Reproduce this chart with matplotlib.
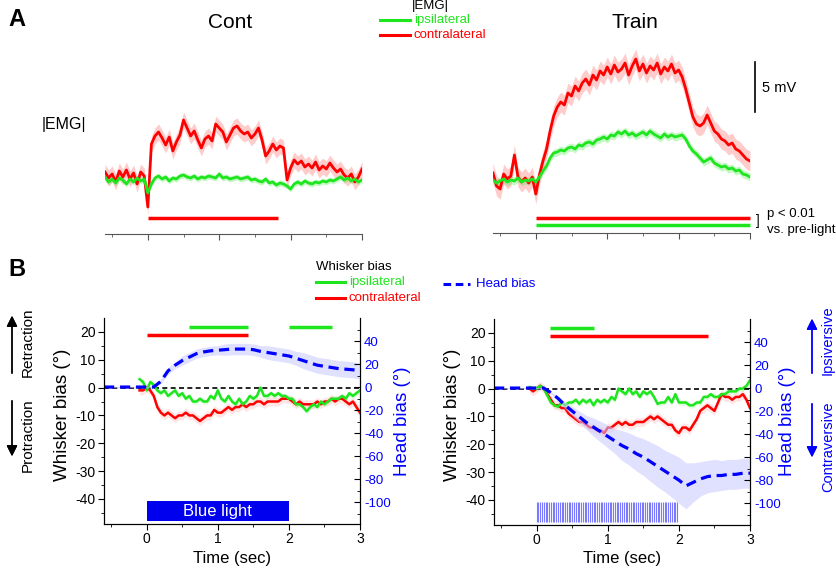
import numpy as np
import matplotlib.pyplot as plt
from matplotlib.lines import Line2D

plt.rcParams['font.family'] = ['Liberation Sans', 'DejaVu Sans']
plt.rcParams['axes.unicode_minus'] = False

# ---------------- data ----------------
# panel A: |EMG| (mV), sampled every 0.05 s from -0.6 to 3.0 s
t_emg = np.linspace(-0.6, 3.0, 73)
cont_ipsi = [0.3, -0.2, 0.1, -0.3, 0.2, 0.0, -0.4, 0.1, -0.2, 0.2, -0.1, 0.1,
             -1.3, -0.4, 0.2, 0.4, 0.1, 0.3, -0.1, 0.2, 0.1, 0.4,
             0.5, 0.3, 0.2, 0.4, 0.1, 0.3, 0.2, 0.4, 0.3, 0.2,
             0.6, 0.2, 0.3, 0.1, 0.2, 0.3, 0.1, 0.2, 0.3, 0.0,
             0.1, -0.1, -0.2, 0.1, -0.3, -0.2, -0.5, -0.3, -0.4, -0.6,
             -0.9, -0.4, -0.2, -0.4, -0.1, -0.3, -0.4, -0.2, -0.3, -0.1,
             -0.2, 0.0, -0.1, 0.1, 0.3, 0.0, 0.2, -0.1, 0.1, -0.2, 0.0]
cont_contra = [0.8, 0.2, 0.6, -0.2, 0.9, 0.3, 1.0, 0.1, 0.7, -0.4, 0.8, 0.4,
               -2.7, 3.6, 4.4, 4.8, 4.2, 3.5, 4.3, 2.9, 3.8, 4.5,
               6.0, 5.2, 4.4, 4.9, 4.0, 3.2, 4.1, 4.4, 3.9, 5.6,
               5.2, 4.8, 3.8, 4.5, 5.2, 5.4, 4.9, 4.6, 4.8, 4.2,
               4.6, 5.2, 4.0, 2.4, 2.9, 3.6, 3.0, 3.4, 3.2, 0.0,
               1.2, 2.0, 1.6, 1.9, 1.3, 1.6, 1.2, 1.8, 1.0, 1.4,
               1.1, 1.7, 1.2, 0.8, 1.1, 0.5, 0.2, 0.6, -0.2, 0.3, 1.1]
train_ipsi = [-0.1, -0.4, -0.2, 0.0, -0.3, -0.1, -0.2, 0.1, -0.3, -0.1, -0.2, 0.0,
              -0.3, 0.2, 0.8, 1.3, 2.1, 2.6, 2.7, 2.9, 2.8, 3.1,
              3.2, 3.0, 3.4, 3.3, 3.6, 3.7, 3.5, 3.9, 4.0, 4.2,
              4.0, 4.4, 4.3, 4.7, 4.5, 4.8, 4.4, 4.6, 4.3, 4.5,
              4.7, 4.4, 4.8, 4.5, 4.3, 4.1, 4.5, 4.2, 4.4, 4.2,
              4.3, 4.4, 4.0, 3.3, 2.8, 2.5, 2.1, 1.7, 1.9, 2.1,
              1.6, 1.4, 1.2, 1.3, 1.0, 1.1, 0.8, 0.9, 0.5, 0.4, 0.2]
train_contra = [0.6, -0.7, -1.0, 0.5, 0.0, 0.3, 2.4, 0.2, -0.3, 0.1, -0.4, 0.2,
                -1.5, 0.4, 1.8, 3.0, 4.8, 6.3, 7.2, 7.7, 7.4, 8.6,
                8.3, 9.3, 8.8, 9.6, 10.0, 9.4, 10.4, 9.9, 10.8, 10.4,
                11.2, 10.5, 11.4, 10.7, 11.0, 11.6, 10.4, 11.3, 12.0, 10.8,
                11.5, 10.6, 11.3, 10.9, 11.6, 10.5, 11.2, 10.8, 11.5, 10.6,
                10.9, 10.2, 9.0, 7.6, 6.2, 5.5, 5.3, 5.6, 6.4, 5.6,
                4.8, 4.5, 4.0, 3.8, 3.4, 3.6, 3.0, 2.8, 2.4, 2.0, 1.8]
emg_sem = {'cont_ipsi': 0.3, 'cont_contra': 0.8, 'train_ipsi': 0.4, 'train_contra': 1.0}

# significance bars (start, end) in s
sig_cont_contra = (0.0, 1.82)
sig_train_contra = (0.0, 3.0)
sig_train_ipsi = (0.0, 3.0)

# panel B: whisker bias (deg), every 0.05 s from -0.1 to 3.0 s
t_wh = np.linspace(-0.1, 3.0, 63)
wh_cont_ipsi = [3, 2, -1, 2, 1, -1, -2, -1, -3, -2,
                -1, -3, -2, -4, -3, -5, -5, -4, -5, -5,
                -3, -4, -1, -4, -5, -3, -5, -6, -4, -6,
                -5, -3, -4, -3, 0, -3, -3, -2, -3, -2,
                -3, -3, -4, -4, -6, -6, -7, -8.5, -7, -6,
                -7, -5, -6, -5, -4, -4, -4, -3, -4, -2,
                -3, -2, -1]
wh_cont_contra = [-1, -1, 0, -1, -3, -7, -9, -10, -9, -10,
                  -11, -10, -10, -9, -10, -10, -11, -12, -11, -10,
                  -10, -8, -9, -9, -8, -7, -8, -7, -7, -6,
                  -7, -6, -6, -5, -5, -6, -5, -5, -5, -5,
                  -4, -4, -4, -5, -6, -5, -6, -6, -6, -6,
                  -5, -6, -5, -5, -4, -5, -4, -4, -5, -6,
                  -5, -7, -9]
wh_train_ipsi = [0.5, 0, 0, 1, 0, -2.5, -5, -6, -6.5, -5,
                 -6, -5, -5, -4, -5.5, -4, -5, -4, -6, -4,
                 -5, -4, -5, -3, -4, 0, -1, -2, 0, -2,
                 -1, -3, -1, -2, -1, -3, -5.5, -5, -5, -3,
                 -5, -2, -5, -5, -5, -6, -6, -5, -5, -3,
                 -3, -2, -3, -3, -2, -2, -1, -1, -1, 0,
                 0, 1, 3]
wh_train_contra = [0, -1, 0, 1, 0, -2, -4, -6, -6, -7,
                   -7, -9, -10, -11, -12, -12, -13, -14, -14, -15,
                   -15, -16, -14, -14, -13, -12, -13, -12, -13, -13,
                   -12, -12, -12, -11, -10, -11, -10, -11, -12, -13,
                   -13, -15, -16, -14, -14, -15, -13, -11, -8, -7,
                   -6, -7, -8, -5, -2, -3, -3, -4, -3, -3,
                   -2, -4, -7]
wh_sem = {'ipsi': 1.0, 'contra': 1.6}

# head bias (deg), every 0.1 s from -0.6 to 3.0 s
t_head = np.linspace(-0.6, 3.0, 37)
head_cont = [0, 0, 0, 0, 0, 0, 0, 0, 5, 14,
             19, 23, 26, 29, 30.5, 31.5, 32, 32.5, 33, 33,
             33, 32.5, 31, 30, 29, 28, 27, 25, 23, 21,
             19, 18, 17, 16, 15.5, 15, 14]
head_cont_sem = [0.5, 0.5, 0.5, 0.5, 0.5, 0.5, 0.5, 0.5, 2, 3,
                 3, 4, 4, 4, 4, 4, 4, 5, 5, 5,
                 5, 5, 5, 6, 6, 6, 6, 6, 7, 7,
                 7, 7, 7, 7, 7, 7, 7]
head_train = [0, 0, 0, 0, 0, 0, 0, 0, -4, -9,
              -15, -20, -25, -30, -34, -38, -42, -46, -50, -53,
              -57, -60, -64, -68, -72, -76, -80, -85, -82, -79,
              -77, -76, -76, -75, -75, -74, -74]
head_train_sem = [0.5, 0.5, 0.5, 0.5, 0.5, 0.5, 0.5, 0.5, 1, 2,
                  3, 4, 5, 6, 8, 9, 10, 11, 13, 14,
                  15, 16, 17, 18, 18, 19, 20, 20, 17, 15,
                  14, 14, 13, 13, 13, 13, 13]

# significance bars panel B: (start, end)
sigB_cont_ipsi = [(0.6, 1.42), (2.0, 2.6)]
sigB_cont_contra = [(0.0, 1.42)]
sigB_train_ipsi = [(0.19, 0.81)]
sigB_train_contra = [(0.19, 2.41)]

light_on, light_off = 0.0, 2.0
pulse_times = np.arange(0.0, 2.0, 0.025)

RED = '#ff0000'
GREEN = '#1ee61e'
BLUE = '#0000ff'

W, H = 837, 568


def fx(x):
    return x / W


def fy(y):
    return 1 - y / H


fig = plt.figure(figsize=(8.37, 5.68), dpi=100)

# ---------------- panel A ----------------
axA1 = fig.add_axes([fx(105), fy(234), 257 / W, 184 / H])
axA2 = fig.add_axes([fx(493), fy(233), 257 / W, 184 / H])

for ax, ipsi, contra, key in [(axA1, cont_ipsi, cont_contra, 'cont'),
                              (axA2, train_ipsi, train_contra, 'train')]:
    ipsi = np.array(ipsi)
    contra = np.array(contra)
    s_c = emg_sem[key + '_contra']
    s_i = emg_sem[key + '_ipsi']
    ax.fill_between(t_emg, contra - s_c, contra + s_c, color=RED, alpha=0.2, lw=0)
    ax.plot(t_emg, contra, color=RED, lw=2)
    ax.fill_between(t_emg, ipsi - s_i, ipsi + s_i, color=GREEN, alpha=0.25, lw=0)
    ax.plot(t_emg, ipsi, color=GREEN, lw=2)
    ax.set_xlim(-0.6, 3)
    ax.set_ylim(-5.4, 13)
    for s in ['left', 'right', 'top']:
        ax.spines[s].set_visible(False)
    ax.spines['bottom'].set_color('#555555')
    ax.set_yticks([])
    ax.set_xticks([0, 1, 2, 3])
    ax.set_xticklabels([])
    ax.set_xticks([-0.5, 0.5, 1.5, 2.5], minor=True)
    ax.tick_params(axis='x', which='major', length=4, color='#555555')
    ax.tick_params(axis='x', which='minor', length=2.5, color='#555555')

axA1.plot(sig_cont_contra, [-3.8, -3.8], color=RED, lw=2.5, solid_capstyle='butt')
axA2.plot(sig_train_contra, [-3.9, -3.9], color=RED, lw=2.5, solid_capstyle='butt', clip_on=False)
axA2.plot(sig_train_ipsi, [-4.6, -4.6], color=GREEN, lw=2.5, solid_capstyle='butt', clip_on=False)

# scale bar 5 mV
axA2.plot([3.07, 3.07], [6.7, 11.7], color='black', lw=1.2, clip_on=False)
fig.text(fx(762), fy(88), '5 mV', fontsize=10.5, va='center', ha='left')

fig.text(fx(230), fy(23), 'Cont', fontsize=15, ha='center', va='center')
fig.text(fx(635), fy(23), 'Train', fontsize=15, ha='center', va='center')
fig.text(fx(8), fy(20), 'A', fontsize=17, fontweight='bold', ha='left', va='center')
fig.text(fx(64), fy(125), '|EMG|', fontsize=11.5, ha='center', va='center')

fig.text(fx(756), fy(221), ']', fontsize=10, ha='left', va='center')
fig.text(fx(767), fy(214), 'p < 0.01', fontsize=9.5, ha='left', va='center')
fig.text(fx(767), fy(230), 'vs. pre-light', fontsize=9.5, ha='left', va='center')

# legend A
fig.text(fx(430), fy(6), '|EMG|', fontsize=9.5, ha='center', va='center')
fig.add_artist(Line2D([fx(380), fx(410)], [fy(20), fy(20)], color=GREEN, lw=2.2))
fig.text(fx(414), fy(20), 'ipsilateral', fontsize=9.5, color=GREEN, ha='left', va='center')
fig.add_artist(Line2D([fx(380), fx(410)], [fy(35), fy(35)], color=RED, lw=2.2))
fig.text(fx(414), fy(35), 'contralateral', fontsize=9.5, color=RED, ha='left', va='center')

# ---------------- panel B ----------------
axB1 = fig.add_axes([fx(104), fy(524), 256 / W, 206 / H])
axB2 = fig.add_axes([fx(494), fy(525), 256 / W, 206 / H])

panels = [(axB1, wh_cont_ipsi, wh_cont_contra, head_cont, head_cont_sem,
           sigB_cont_ipsi, sigB_cont_contra),
          (axB2, wh_train_ipsi, wh_train_contra, head_train, head_train_sem,
           sigB_train_ipsi, sigB_train_contra)]

for ax, ipsi, contra, head, head_sem, sig_i, sig_c in panels:
    ipsi = np.array(ipsi, dtype=float)
    contra = np.array(contra, dtype=float)
    ax.axhline(0, color='black', lw=1.2, ls=(0, (3, 2)), zorder=1)
    ax.fill_between(t_wh, contra - wh_sem['contra'], contra + wh_sem['contra'],
                    color=RED, alpha=0.1, lw=0)
    ax.fill_between(t_wh, ipsi - wh_sem['ipsi'], ipsi + wh_sem['ipsi'],
                    color=GREEN, alpha=0.15, lw=0)
    ax.plot(t_wh, contra, color=RED, lw=1.8, zorder=3)
    ax.plot(t_wh, ipsi, color=GREEN, lw=1.8, zorder=3)
    for a, b in sig_i:
        ax.plot([a, b], [21.8, 21.8], color=GREEN, lw=2.5, solid_capstyle='butt')
    for a, b in sig_c:
        ax.plot([a, b], [18.9, 18.9], color=RED, lw=2.5, solid_capstyle='butt')

    ax.set_xlim(-0.6, 3)
    ax.set_ylim(-49, 25)
    ax.set_xticks([0, 1, 2, 3])
    ax.set_xticks([-0.5, 0.5, 1.5, 2.5], minor=True)
    ax.set_yticks([20, 10, 0, -10, -20, -30, -40])
    ax.set_yticks(np.arange(-45, 25, 5), minor=True)
    ax.tick_params(which='major', length=4, labelsize=10, pad=2)
    ax.tick_params(which='minor', length=2.5)
    ax.spines['top'].set_visible(False)

    axr = ax.twinx()
    head = np.array(head, dtype=float)
    head_sem = np.array(head_sem, dtype=float)
    axr.fill_between(t_head, head - head_sem, head + head_sem, color='#c8c8ff',
                     alpha=0.55, lw=0)
    axr.plot(t_head, head, color=BLUE, lw=2.3, ls=(0, (3.2, 1.8)))
    axr.set_ylim(-119, 60)
    axr.set_yticks([40, 20, 0, -20, -40, -60, -80, -100])
    axr.set_yticks(np.arange(-110, 60, 10), minor=True)
    axr.tick_params(which='both', direction='in')
    axr.tick_params(which='major', length=4, labelsize=9.5, labelcolor=BLUE, pad=3)
    axr.tick_params(which='minor', length=2.5)
    axr.spines['top'].set_visible(False)

# blue light
axB1.fill_between([light_on, light_off], -47.9, -40.8, color='#0000ee', lw=0)
axB1.text(1.0, -44.4, 'Blue light', color='white', fontsize=12, ha='center', va='center')
axB2.vlines(pulse_times, -47.9, -40.8, color='#7a7aff', lw=0.8)

# axis labels
for xc, xh in [(63, 403), (453, 788)]:
    fig.text(fx(xc), fy(415), 'Whisker bias (°)', fontsize=13.5, rotation=90,
             ha='center', va='center')
    fig.text(fx(xh), fy(421), 'Head bias (°)', fontsize=13.5, rotation=90,
             color=BLUE, ha='center', va='center')
fig.text(fx(232), fy(559), 'Time (sec)', fontsize=12, ha='center', va='center')
fig.text(fx(622), fy(559), 'Time (sec)', fontsize=12, ha='center', va='center')

fig.text(fx(8), fy(270), 'B', fontsize=17, fontweight='bold', ha='left', va='center')

# legend B
fig.text(fx(316), fy(267), 'Whisker bias', fontsize=9.5, ha='left', va='center')
fig.add_artist(Line2D([fx(316), fx(345)], [fy(282), fy(282)], color=GREEN, lw=2.2))
fig.text(fx(349), fy(282), 'ipsilateral', fontsize=9.5, color=GREEN, ha='left', va='center')
fig.add_artist(Line2D([fx(316), fx(345)], [fy(298), fy(298)], color=RED, lw=2.2))
fig.text(fx(349), fy(298), 'contralateral', fontsize=9.5, color=RED, ha='left', va='center')
fig.add_artist(Line2D([fx(443), fx(470)], [fy(284), fy(284)], color=BLUE, lw=2.2,
                      ls=(0, (2.5, 1.5))))
fig.text(fx(476), fy(284), 'Head bias', fontsize=9.5, color=BLUE, ha='left', va='center')

# direction arrows
arrow_k = dict(arrowstyle='-|>', color='black', lw=1, mutation_scale=16)
fig.add_artist(plt.annotate('', xy=(fx(12), fy(313)), xytext=(fx(12), fy(376)),
                            xycoords='figure fraction', arrowprops=arrow_k))
fig.add_artist(plt.annotate('', xy=(fx(12), fy(459)), xytext=(fx(12), fy(398)),
                            xycoords='figure fraction', arrowprops=arrow_k))
fig.text(fx(28), fy(342), 'Retraction', fontsize=11, rotation=90, ha='center', va='center')
fig.text(fx(28), fy(435), 'Protraction', fontsize=11, rotation=90, ha='center', va='center')

arrow_b = dict(arrowstyle='-|>', color=BLUE, lw=1, mutation_scale=16)
fig.add_artist(plt.annotate('', xy=(fx(812), fy(316)), xytext=(fx(812), fy(376)),
                            xycoords='figure fraction', arrowprops=arrow_b))
fig.add_artist(plt.annotate('', xy=(fx(812), fy(460)), xytext=(fx(812), fy(401)),
                            xycoords='figure fraction', arrowprops=arrow_b))
fig.text(fx(828), fy(340), 'Ipsiversive', fontsize=10.5, rotation=90, color=BLUE,
         ha='center', va='center')
fig.text(fx(828), fy(447), 'Contraversive', fontsize=10.5, rotation=90, color=BLUE,
         ha='center', va='center')

fig.savefig('out.png', dpi=100)
